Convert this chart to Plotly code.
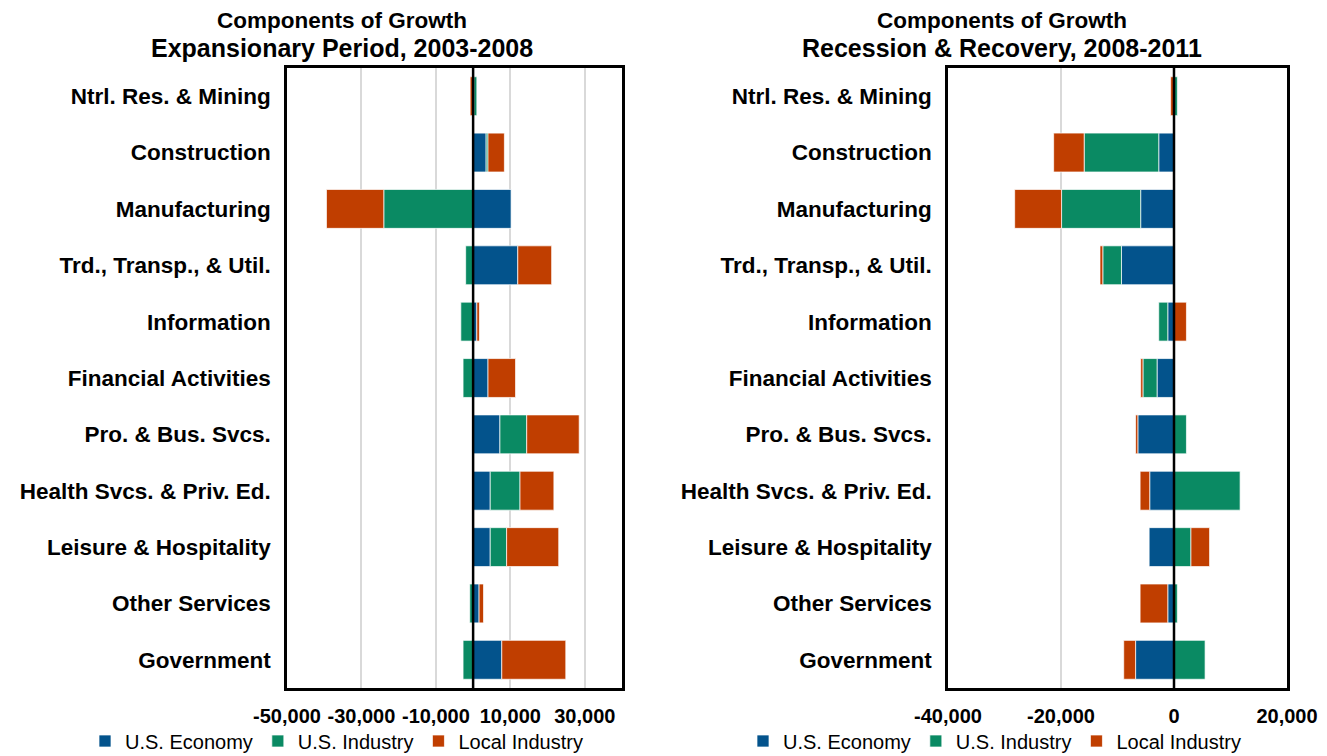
import plotly.graph_objects as go

categories = ["Ntrl. Res. & Mining", "Construction", "Manufacturing", "Trd., Transp., & Util.",
              "Information", "Financial Activities", "Pro. & Bus. Svcs.", "Health Svcs. & Priv. Ed.",
              "Leisure & Hospitality", "Other Services", "Government"]

series_names = ["U.S. Economy", "U.S. Industry", "Local Industry"]

# Expansionary Period, 2003-2008
exp_us_economy = [200, 3500, 10200, 12000, 1000, 4000, 7200, 4600, 4600, 1600, 7700]
exp_us_industry = [800, 500, -24000, -2000, -3300, -2700, 7200, 8000, 4400, -900, -2700]
exp_local_industry = [-800, 4400, -15400, 9100, 700, 7400, 14100, 9100, 14000, 1200, 17200]

# Recession & Recovery, 2008-2011
rec_us_economy = [0, -2700, -5900, -9300, -1100, -3000, -6400, -4300, -4400, -1100, -6800]
rec_us_industry = [600, -13200, -14000, -3300, -1600, -2500, 2200, 11700, 3000, 600, 5500]
rec_local_industry = [-600, -5400, -8300, -500, 2200, -400, -400, -1700, 3300, -4900, -2100]

left_tickvals = [-50000, -30000, -10000, 10000, 30000]
left_ticktext = ["-50,000", "-30,000", "-10,000", "10,000", "30,000"]
right_tickvals = [-40000, -20000, 0, 20000]
right_ticktext = ["-40,000", "-20,000", "0", "20,000"]

colors = ["#03538C", "#0A8A63", "#C03E00"]
FONT = "Liberation Sans, Arial, Helvetica, sans-serif"

fig = go.Figure()

left_data = [exp_us_economy, exp_us_industry, exp_local_industry]
right_data = [rec_us_economy, rec_us_industry, rec_local_industry]

for name, vals, col in zip(series_names, left_data, colors):
    fig.add_trace(go.Bar(y=categories, x=vals, orientation="h", name=name,
                         marker=dict(color=col, line=dict(color="rgba(255,255,255,0.7)", width=1)),
                         xaxis="x", yaxis="y", legend="legend"))
for name, vals, col in zip(series_names, right_data, colors):
    fig.add_trace(go.Bar(y=categories, x=vals, orientation="h", name=name,
                         marker=dict(color=col, line=dict(color="rgba(255,255,255,0.7)", width=1)),
                         xaxis="x2", yaxis="y2", legend="legend2"))

W, H = 1327, 756
ydom = [1 - 688 / H, 1 - 68 / H]

common_x = dict(showline=True, mirror=True, linecolor="black", linewidth=2.5,
                showgrid=True, gridcolor="#D9D9D9", gridwidth=2, zeroline=False,
                ticks="", tickfont=dict(family=FONT, size=20, color="black", weight="bold"),
                ticklabelstandoff=8, automargin=False)
common_y = dict(showline=True, mirror=True, linecolor="black", linewidth=2.5,
                showgrid=False, zeroline=False, autorange="reversed", ticks="",
                tickfont=dict(family=FONT, size=22.5, color="black", weight="bold"),
                ticklabelstandoff=9, categoryorder="array", categoryarray=categories,
                automargin=False)

fig.update_layout(
    width=W, height=H,
    margin=dict(l=0, r=0, t=0, b=0, autoexpand=False),
    paper_bgcolor="white", plot_bgcolor="white",
    barmode="relative", bargap=0.31,
    font=dict(family=FONT, color="black"),
    xaxis=dict(domain=[287 / W, 622 / W], range=[-50000, 40000], anchor="y",
               tickvals=left_tickvals, ticktext=left_ticktext, **common_x),
    yaxis=dict(domain=ydom, anchor="x", **common_y),
    xaxis2=dict(domain=[948 / W, 1287 / W], range=[-40000, 20000], anchor="y2",
                tickvals=right_tickvals, ticktext=right_ticktext, **common_x),
    yaxis2=dict(domain=ydom, anchor="x2", **common_y),
    legend=dict(orientation="h", x=85 / W, xanchor="left", y=1 - 741 / H, yanchor="middle",
                font=dict(family=FONT, size=20, color="black"), bgcolor="rgba(0,0,0,0)"),
    legend2=dict(orientation="h", x=743 / W, xanchor="left", y=1 - 741 / H, yanchor="middle",
                 font=dict(family=FONT, size=20, color="black"), bgcolor="rgba(0,0,0,0)"),
    shapes=[
        dict(type="line", xref="x", yref="y domain", x0=0, x1=0, y0=0, y1=1,
             line=dict(color="black", width=2.5), layer="above"),
        dict(type="line", xref="x2", yref="y2 domain", x0=0, x1=0, y0=0, y1=1,
             line=dict(color="black", width=2.5), layer="above"),
    ],
    annotations=[
        dict(text="<b>Components of Growth</b>", xref="paper", yref="paper", x=342 / W, y=1 - 20 / H,
             xanchor="center", yanchor="middle", showarrow=False, font=dict(family=FONT, size=22.5, color="black")),
        dict(text="<b>Expansionary Period, 2003-2008</b>", xref="paper", yref="paper", x=342 / W, y=1 - 48 / H,
             xanchor="center", yanchor="middle", showarrow=False, font=dict(family=FONT, size=25, color="black")),
        dict(text="<b>Components of Growth</b>", xref="paper", yref="paper", x=1002 / W, y=1 - 20 / H,
             xanchor="center", yanchor="middle", showarrow=False, font=dict(family=FONT, size=22.5, color="black")),
        dict(text="<b>Recession & Recovery, 2008-2011</b>", xref="paper", yref="paper", x=1002 / W, y=1 - 48 / H,
             xanchor="center", yanchor="middle", showarrow=False, font=dict(family=FONT, size=25, color="black")),
    ],
)

fig.write_html("out.html",
               config={"displayModeBar": False},
               post_script="document.body.style.margin='0';document.body.style.padding='0';"
                           "document.body.style.overflow='hidden';")
